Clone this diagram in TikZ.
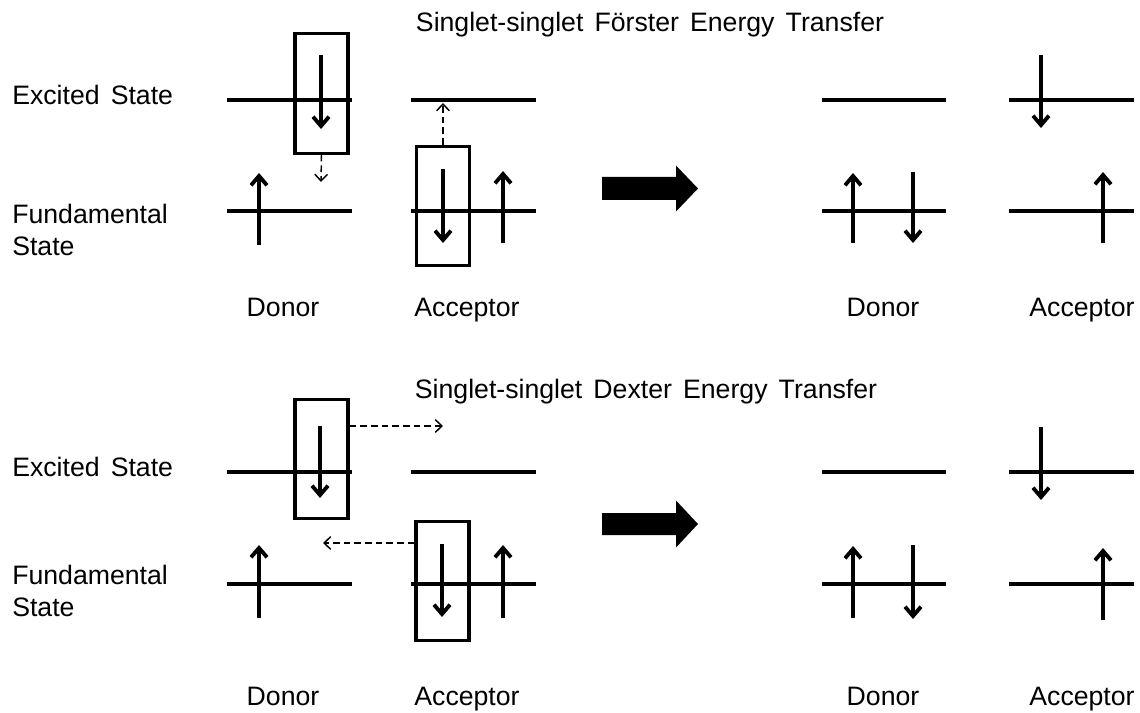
\documentclass[tikz,border=0pt]{standalone}
\usepackage{fontspec}
\setmainfont{Liberation Sans}[WordSpace=1.5]
\usetikzlibrary{arrows.meta,positioning}

\begin{document}
\begin{tikzpicture}[x=0.75pt,y=-0.75pt,
    level/.style={line width=2.9pt},
    spin/.style={line width=2.9pt,-{Straight Barb[length=7pt,width=12pt]}},
    pairbox/.style={draw,line width=2.3pt,minimum width=39.75pt,minimum height=89.5pt,inner sep=0pt},
    hop/.style={line width=1.1pt,dash pattern=on 5pt off 3pt,-{Straight Barb[length=5pt,width=9.5pt]}},
    txt/.style={font=\fontsize{20}{24.5}\selectfont,inner sep=0pt}]
  \useasboundingbox (0,0) rectangle (1140,713);

  % Foerster transfer
  \node[txt,anchor=base] (titleF) at (650,32) {Singlet-singlet Förster Energy Transfer};
  \node[txt,anchor=west] (excF) at (12,95) {Excited State};
  \node[txt,anchor=west,align=left] (fundF) at (12,230) {Fundamental\\State};

  \draw[level] (227,100) -- (352,100);
  \draw[level] (227,211) -- (352,211);
  \draw[level] (411,100) -- (536,100);
  \draw[level] (411,211) -- (536,211);
  \draw[level] (822,100) -- (946,100);
  \draw[level] (822,211) -- (946,211);
  \draw[level] (1009,100) -- (1134,100);
  \draw[level] (1009,211) -- (1134,211);

  \node[pairbox] (dboxF) at (321.5,93.5) {};
  \node[pairbox] (aboxF) at (443,206) {};
  \coordinate (hopF1) at (321,182);
  \coordinate (hopF2) at (443,103);
  \draw[hop] (dboxF.south) -- (hopF1);
  \draw[hop] (aboxF.north) -- (hopF2);

  \draw[spin] (259,245) -- (259,173);
  \draw[spin] (321,55) -- (321,129);
  \draw[spin] (443,169) -- (443,243);
  \draw[spin] (503,243) -- (503,171);
  \draw[spin] (853,243) -- (853,173);
  \draw[spin] (913,172) -- (913,243);
  \draw[spin] (1041,55) -- (1041,128);
  \draw[spin] (1103,243) -- (1103,172);

  \coordinate (goF) at (650,188.5);
  \fill[shift={(goF)}] (-48,-11.5) -- (26,-11.5) -- (26,-23) -- (48,0)
    -- (26,23) -- (26,11.5) -- (-48,11.5) -- cycle;

  \node[txt,anchor=base] (donF)  at (283,316)  {Donor};
  \node[txt,anchor=base] (accF)  at (467,316)  {Acceptor};
  \node[txt,anchor=base] (donF2) at (883,316)  {Donor};
  \node[txt,anchor=base] (accF2) at (1082,316) {Acceptor};

  % Dexter transfer
  \node[txt,anchor=base] (titleD) at (646,398) {Singlet-singlet Dexter Energy Transfer};
  \node[txt,anchor=west] (excD) at (12,467) {Excited State};
  \node[txt,anchor=west,align=left] (fundD) at (12,591) {Fundamental\\State};

  \draw[level] (227,472) -- (352,472);
  \draw[level] (227,584) -- (352,584);
  \draw[level] (411,472) -- (536,472);
  \draw[level] (411,584) -- (536,584);
  \draw[level] (822,472) -- (946,472);
  \draw[level] (822,584) -- (946,584);
  \draw[level] (1009,472) -- (1134,472);
  \draw[level] (1009,584) -- (1134,584);

  \node[pairbox] (dboxD) at (321.5,459) {};
  \node[pairbox] (aboxD) at (442.5,581) {};
  \coordinate (hopD1) at (443,426);
  \coordinate (hopD2) at (323,543);
  \draw[hop] (hopD1 -| dboxD.east) -- (hopD1);
  \draw[hop] (hopD2 -| aboxD.west) -- (hopD2);

  \draw[spin] (259,618) -- (259,545);
  \draw[spin] (320,426) -- (320,498);
  \draw[spin] (442,544) -- (442,617);
  \draw[spin] (503,618) -- (503,545);
  \draw[spin] (853,618) -- (853,546);
  \draw[spin] (913,545) -- (913,619);
  \draw[spin] (1041,427) -- (1041,500);
  \draw[spin] (1103,620) -- (1103,548);

  \coordinate (goD) at (650,524);
  \fill[shift={(goD)}] (-48,-11) -- (26,-11) -- (26,-23.5) -- (48,0)
    -- (26,23.5) -- (26,11) -- (-48,11) -- cycle;

  \node[txt,anchor=base] (donD)  at (283,705)  {Donor};
  \node[txt,anchor=base] (accD)  at (467,705)  {Acceptor};
  \node[txt,anchor=base] (donD2) at (883,705)  {Donor};
  \node[txt,anchor=base] (accD2) at (1082,705) {Acceptor};
\end{tikzpicture}
\end{document}
